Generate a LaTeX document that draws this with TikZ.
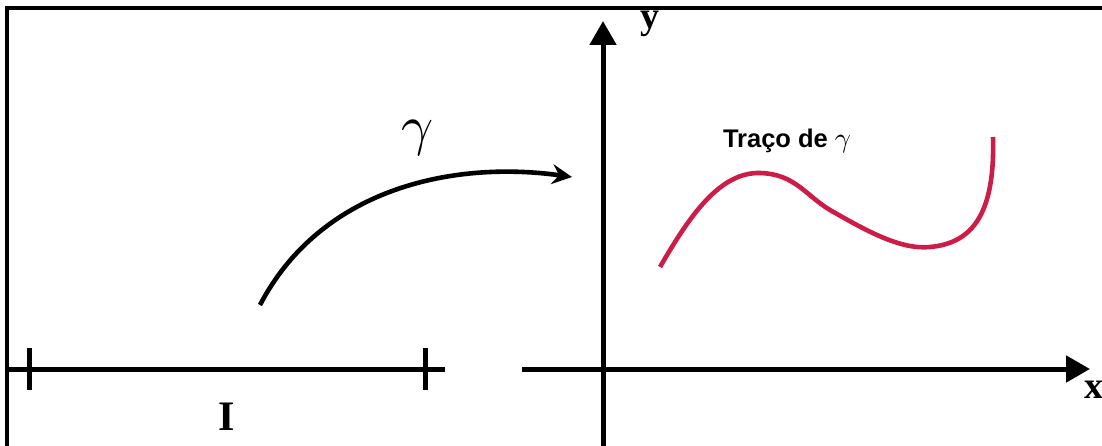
\documentclass[tikz,border=0pt]{standalone}
\usepackage{graphicx}
\usepackage{fontspec}
\setmainfont{Liberation Serif}
\setsansfont{Liberation Sans}
\usetikzlibrary{arrows.meta}
\definecolor{curvered}{RGB}{206,28,72}
\tikzset{
  axis/.style={line width=5pt, -{Triangle[length=24pt,width=26pt]}},
  frameline/.style={line width=4pt},
  seg/.style={line width=5pt},
  tick/.style={line width=5pt},
  mapcurve/.style={line width=4.6pt, -{Stealth[length=20pt,width=20pt,inset=7pt]}},
  trace/.style={line width=4.6pt, curvered},
  lbl/.style={inner sep=0pt}
}
\begin{document}
\begin{tikzpicture}[x=1pt,y=-1pt]
\useasboundingbox (0,0) rectangle (1102,446);
% frame
\coordinate (fbl) at (7,446);
\coordinate (ftl) at (7,8);
\coordinate (ftr) at (1102,8);
\draw[frameline] (fbl) -- (ftl) -- (ftr);
% interval
\coordinate (ia) at (7,369);
\coordinate (ib) at (445,369);
\draw[seg] (ia) -- (ib);
\coordinate (t1a) at (29,348); \coordinate (t1b) at (29,390);
\coordinate (t2a) at (425,348); \coordinate (t2b) at (425,390);
\draw[tick] (t1a) -- (t1b);
\draw[tick] (t2a) -- (t2b);
\node[lbl] (I) at (227,417) {\fontsize{42}{42}\selectfont\bfseries I};
% axes
\coordinate (xs) at (522,369);
\coordinate (xe) at (1090,369);
\coordinate (ys) at (603,446);
\coordinate (ye) at (603,21);
\draw[axis] (xs) -- (xe);
\draw[axis] (ys) -- (ye);
\node[lbl] (xl) at (1094,390) {\fontsize{38}{38}\selectfont\bfseries x};
\node[lbl] (yl) at (650,24) {\fontsize{38}{38}\selectfont\bfseries y};
% mapping arrow
\coordinate (ms) at (260,305);
\coordinate (me) at (572,177);
\draw[mapcurve] (ms) .. controls (320,190) and (450,160) .. (me);
\node[lbl] (gamma) at (418,138) {\scalebox{5.6}{$\gamma$}};
% trace
\coordinate (r0) at (660,267);
\coordinate (r1) at (760,173);
\coordinate (r2) at (830,210);
\coordinate (r3) at (930,247);
\coordinate (r4) at (993,137);
\draw[trace] (r0) .. controls (690,215) and (720,172) .. (r1)
  .. controls (795,174) and (805,195) .. (r2)
  .. controls (865,230) and (900,250) .. (r3)
  .. controls (975,243) and (995,210) .. (r4);
\node[lbl] (tl) at (787,141) {\fontsize{25.5}{26}\selectfont\sffamily\bfseries Traço de {\normalsize\scalebox{2.8}{$\gamma$}}};
\end{tikzpicture}
\end{document}
